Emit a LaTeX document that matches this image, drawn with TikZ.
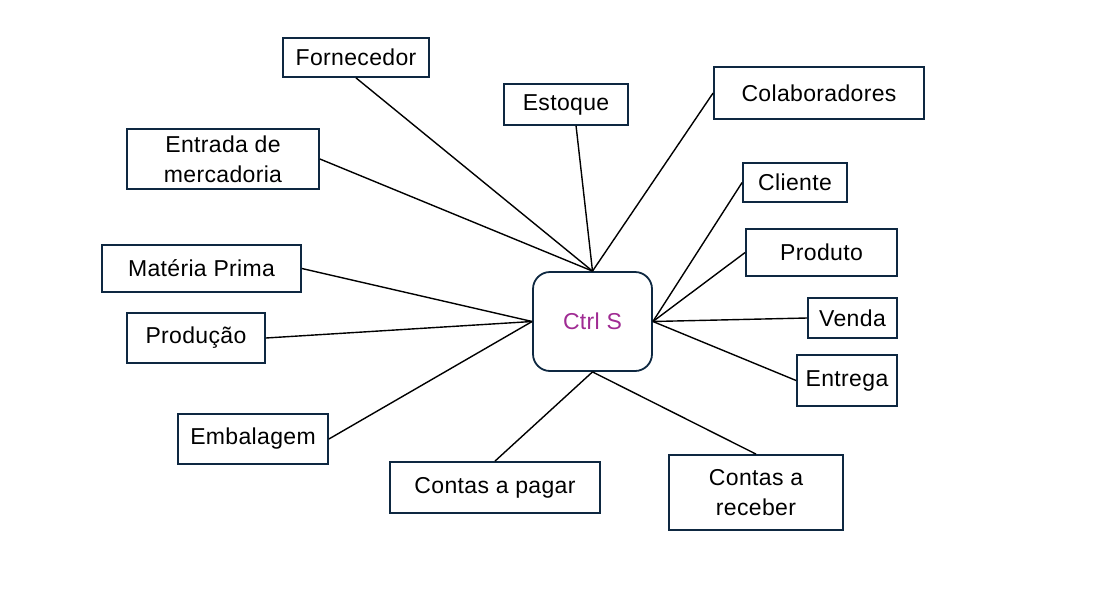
\documentclass[tikz,border=0pt]{standalone}
\usepackage{fontspec}
\setmainfont{Liberation Sans}[LetterSpace=1.5]
\usetikzlibrary{calc}
\definecolor{boxline}{HTML}{0E2841}
\definecolor{ctrltext}{HTML}{A02B93}
\begin{document}
\begin{tikzpicture}[x=1pt,y=-1pt,
  item/.style={draw=boxline,line width=1.8pt,fill=white,inner sep=0pt,align=center,
    font=\fontsize{23}{30}\selectfont},
  hub/.style={item,rounded corners=17pt,text=ctrltext},
  link/.style={draw=black,line width=1.4pt}]
\useasboundingbox (0,0) rectangle (1107,613);
\node[hub,minimum width=119pt,minimum height=99pt] (ctrl) at (592.5,321.5) {Ctrl S};
\node[item,minimum width=146pt,minimum height=39pt] (forn) at (356,57.5) {Fornecedor};
\node[item,minimum width=124pt,minimum height=41pt] (est) at (566,104.5) {Estoque};
\node[item,minimum width=210pt,minimum height=52pt] (colab) at (819,93) {Colaboradores};
\node[item,minimum width=192pt,minimum height=60pt] (entr) at (223,159) {Entrada de\\mercadoria};
\node[item,minimum width=104pt,minimum height=39pt] (cli) at (795,182.5) {Cliente};
\node[item,minimum width=151pt,minimum height=47pt] (prod) at (821.5,252.5) {Produto};
\node[item,minimum width=199pt,minimum height=47pt] (mat) at (201.5,268.5) {Matéria Prima};
\node[item,minimum width=89pt,minimum height=40pt] (venda) at (852.5,318) {Venda};
\node[item,minimum width=138pt,minimum height=50pt] (prodc) at (196,338) {Produção};
\node[item,minimum width=100pt,minimum height=51pt] (entg) at (847,380.5) {Entrega};
\node[item,minimum width=150pt,minimum height=50pt] (emb) at (253,439) {Embalagem};
\node[item,minimum width=210pt,minimum height=51pt] (cpag) at (495,487.5) {Contas a pagar};
\node[item,minimum width=174pt,minimum height=75pt] (crec) at (756,492.5) {Contas a\\receber};
\coordinate (estend) at ($(est.south west)!0.58!(est.south east)$);
\path[link] (forn.south) -- (ctrl.north);
\path[link] (estend) -- (ctrl.north);
\path[link] (colab.west) -- (ctrl.north);
\path[link] (entr.east) -- (ctrl.north);
\path[link] (mat.east) -- (ctrl.west);
\path[link] (prodc.east) -- (ctrl.west);
\path[link] (emb.east) -- (ctrl.west);
\path[link] (cpag.north) -- (ctrl.south);
\path[link] (crec.north) -- (ctrl.south);
\path[link] (cli.west) -- (ctrl.east);
\path[link] (prod.west) -- (ctrl.east);
\path[link] (venda.west) -- (ctrl.east);
\path[link] (entg.west) -- (ctrl.east);
\end{tikzpicture}
\end{document}
